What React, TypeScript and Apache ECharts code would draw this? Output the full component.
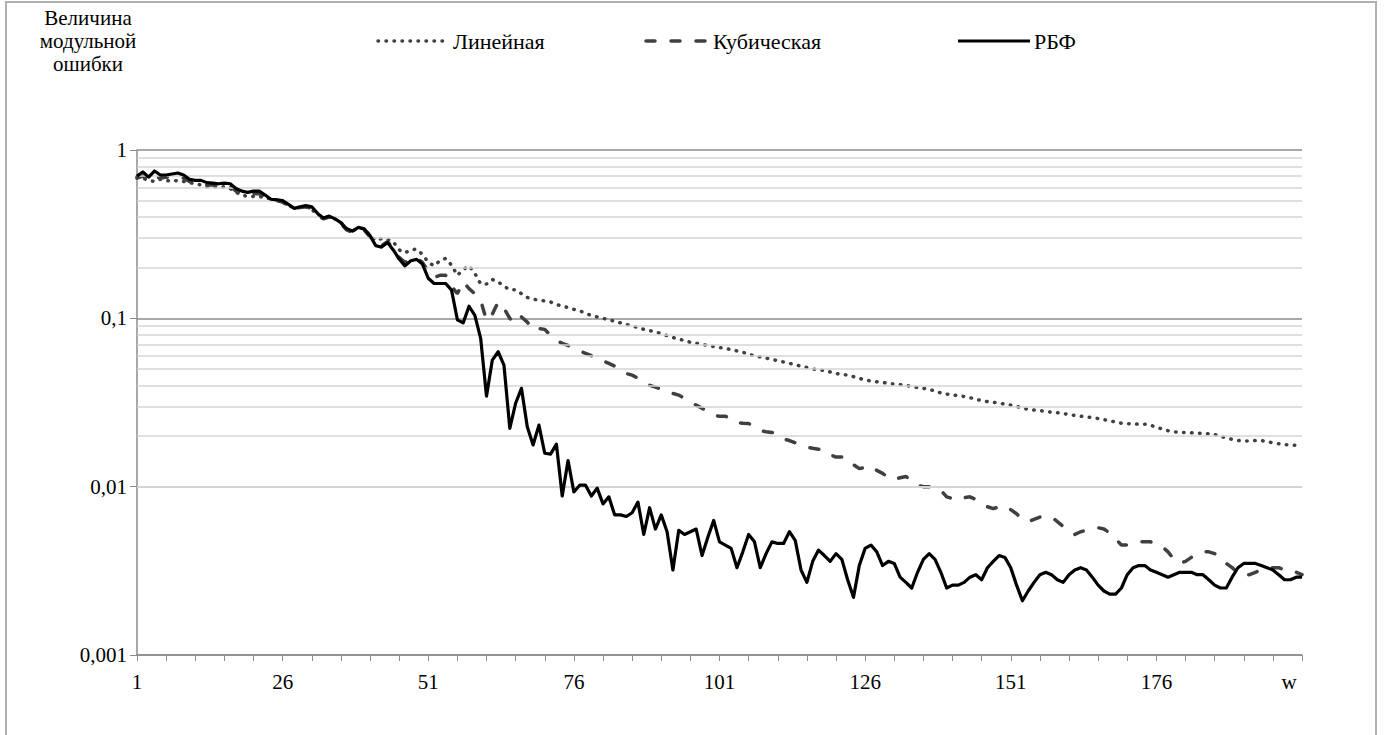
import React, { useEffect, useRef } from 'react';
import * as echarts from 'echarts';

const categories: string[] = Array.from({ length: 201 }, (_, i) => String(i + 1));
const xLastLabel = 'w';

const linear = [
  0.69, 0.68, 0.66, 0.65, 0.67, 0.66, 0.65, 0.66, 0.65, 0.64,
  0.63, 0.62, 0.605, 0.605, 0.6, 0.605, 0.59, 0.56, 0.54, 0.53,
  0.53, 0.53, 0.52, 0.51, 0.505, 0.49, 0.47, 0.45, 0.455, 0.46,
  0.445, 0.41, 0.4, 0.4, 0.39, 0.37, 0.34, 0.33, 0.345, 0.34,
  0.31, 0.29, 0.298, 0.295, 0.285, 0.255, 0.245, 0.255, 0.258, 0.24,
  0.215, 0.205, 0.22, 0.227, 0.207, 0.18, 0.195, 0.205, 0.185, 0.16,
  0.16, 0.17, 0.165, 0.155, 0.148, 0.148, 0.14, 0.133, 0.13, 0.128,
  0.127, 0.125, 0.121, 0.118, 0.116, 0.113, 0.111, 0.107, 0.104, 0.102,
  0.1, 0.098, 0.096, 0.094, 0.092, 0.09, 0.088, 0.086, 0.0845, 0.083,
  0.081, 0.079, 0.077, 0.075, 0.074, 0.072, 0.071, 0.07, 0.069, 0.068,
  0.067, 0.0665, 0.065, 0.064, 0.063, 0.061, 0.06, 0.059, 0.058, 0.057,
  0.056, 0.055, 0.054, 0.053, 0.052, 0.051, 0.05, 0.0495, 0.049, 0.048,
  0.047, 0.0465, 0.046, 0.045, 0.044, 0.043, 0.0425, 0.042, 0.0417, 0.041,
  0.0407, 0.0404, 0.04, 0.0393, 0.0388, 0.0384, 0.0378, 0.037, 0.036, 0.0355,
  0.035, 0.0348, 0.0343, 0.0338, 0.033, 0.0325, 0.032, 0.0317, 0.0313, 0.031,
  0.0305, 0.03, 0.0293, 0.0288, 0.0285, 0.0283, 0.028, 0.0277, 0.0275, 0.0272,
  0.0268, 0.0265, 0.0262, 0.026, 0.0257, 0.0254, 0.025, 0.0246, 0.0242, 0.0238,
  0.0237, 0.0236, 0.0235, 0.0235, 0.0232, 0.0225, 0.022, 0.0215, 0.0212, 0.021,
  0.021, 0.0209, 0.0208, 0.0207, 0.0206, 0.0204, 0.0199, 0.0195, 0.0191, 0.0188,
  0.0187, 0.0187, 0.0188, 0.0188, 0.0185, 0.0182, 0.018, 0.0178, 0.0177, 0.0176, 0.0174,
];

const cubic = [
  0.68, 0.7, 0.66, 0.7, 0.68, 0.69, 0.69, 0.69, 0.68, 0.65,
  0.64, 0.64, 0.62, 0.62, 0.61, 0.62, 0.61, 0.57, 0.55, 0.55,
  0.55, 0.55, 0.53, 0.505, 0.5, 0.49, 0.47, 0.45, 0.455, 0.46,
  0.45, 0.41, 0.39, 0.4, 0.385, 0.365, 0.335, 0.325, 0.34, 0.335,
  0.305, 0.275, 0.27, 0.285, 0.26, 0.23, 0.215, 0.225, 0.228, 0.215,
  0.19, 0.175, 0.18, 0.18, 0.155, 0.14, 0.165, 0.15, 0.14, 0.128,
  0.097, 0.106, 0.125, 0.115, 0.1, 0.093, 0.102, 0.095, 0.085, 0.087,
  0.086, 0.079, 0.074, 0.071, 0.069, 0.066, 0.064, 0.062, 0.06, 0.057,
  0.056, 0.054, 0.052, 0.049, 0.047, 0.046, 0.044, 0.042, 0.04, 0.039,
  0.038, 0.0364, 0.0358, 0.035, 0.0335, 0.0317, 0.0305, 0.0292, 0.028, 0.0265,
  0.0262, 0.0262, 0.0255, 0.024, 0.0238, 0.0237, 0.0228, 0.0215, 0.0212, 0.021,
  0.0205, 0.0192, 0.0188, 0.0182, 0.0178, 0.0172, 0.0169, 0.0167, 0.0165, 0.0155,
  0.015, 0.015, 0.0148, 0.0135, 0.0128, 0.013, 0.0133, 0.0125, 0.012, 0.0113,
  0.011, 0.0113, 0.0115, 0.0108, 0.0102, 0.01, 0.01, 0.01, 0.0095, 0.0087,
  0.0085, 0.0083, 0.0086, 0.0087, 0.0084, 0.0079, 0.0076, 0.0074, 0.0076, 0.0077,
  0.0073, 0.0069, 0.0064, 0.0062, 0.0064, 0.0066, 0.0066, 0.0066, 0.0062, 0.0058,
  0.0054, 0.0052, 0.0054, 0.0055, 0.0056, 0.0057, 0.0056, 0.0053, 0.0049, 0.0045,
  0.0045, 0.0046, 0.0047, 0.0047, 0.0047, 0.0046, 0.0044, 0.0041, 0.0037, 0.0035,
  0.0036, 0.0038, 0.004, 0.0041, 0.0041, 0.004, 0.0038, 0.0035, 0.0033, 0.0031,
  0.003, 0.003, 0.0031, 0.0032, 0.0033, 0.0033, 0.0033, 0.0032, 0.0031, 0.0031, 0.003,
];

const rbf = [
  0.7, 0.74, 0.69, 0.75, 0.71, 0.71, 0.72, 0.73, 0.71, 0.67,
  0.66, 0.66, 0.64, 0.635, 0.63, 0.635, 0.63, 0.59, 0.57, 0.56,
  0.57, 0.57, 0.54, 0.51, 0.505, 0.5, 0.475, 0.45, 0.46, 0.467,
  0.46, 0.42, 0.395, 0.405, 0.39, 0.37, 0.34, 0.33, 0.347, 0.34,
  0.31, 0.27, 0.265, 0.282, 0.255, 0.225, 0.205, 0.22, 0.224, 0.21,
  0.173, 0.161, 0.161, 0.161, 0.147, 0.098, 0.094, 0.118, 0.104, 0.076,
  0.0345, 0.0565, 0.0633, 0.0528, 0.0222, 0.0313, 0.0384, 0.0227, 0.0177, 0.0232,
  0.0158, 0.0156, 0.0179, 0.0088, 0.0143, 0.0093, 0.0102, 0.0102, 0.0088, 0.0098,
  0.0079, 0.0087, 0.0068, 0.0068, 0.00665, 0.007, 0.0081, 0.0052, 0.0075, 0.0056,
  0.0068, 0.0054, 0.0032, 0.0055, 0.0052, 0.0054, 0.0056, 0.0039, 0.005, 0.0063,
  0.0047, 0.0045, 0.0043, 0.0033, 0.0041, 0.0052, 0.0047, 0.0033, 0.004, 0.0047,
  0.0046, 0.0046, 0.0054, 0.0048, 0.0032, 0.0027, 0.0036, 0.0042, 0.0039, 0.0036,
  0.004, 0.0037, 0.0028, 0.0022, 0.0034, 0.0043, 0.0045, 0.0041, 0.0034, 0.0036,
  0.0035, 0.0029, 0.0027, 0.0025, 0.0031, 0.0037, 0.004, 0.0037, 0.0031, 0.0025,
  0.0026, 0.0026, 0.0027, 0.0029, 0.003, 0.0028, 0.0033, 0.0036, 0.0039, 0.0038,
  0.0033, 0.0026, 0.0021, 0.0024, 0.0027, 0.003, 0.0031, 0.003, 0.0028, 0.0027,
  0.003, 0.0032, 0.0033, 0.0032, 0.0029, 0.0026, 0.0024, 0.0023, 0.0023, 0.0025,
  0.003, 0.0033, 0.0034, 0.0034, 0.0032, 0.0031, 0.003, 0.0029, 0.003, 0.0031,
  0.0031, 0.0031, 0.003, 0.003, 0.0028, 0.0026, 0.0025, 0.0025, 0.0029, 0.0033,
  0.0035, 0.0035, 0.0035, 0.0034, 0.0033, 0.0032, 0.003, 0.0028, 0.0028, 0.0029, 0.0029,
];

const seriesNames = ['Линейная', 'Кубическая', 'РБФ'];
const yMajorTicks = [0.001, 0.01, 0.1, 1];
const yTickLabels = ['0,001', '0,01', '0,1', '1'];
const yMinorGrid = [
  0.002, 0.003, 0.004, 0.005, 0.006, 0.007, 0.008, 0.009,
  0.02, 0.03, 0.04, 0.05, 0.06, 0.07, 0.08, 0.09,
  0.2, 0.3, 0.4, 0.5, 0.6, 0.7, 0.8, 0.9,
];
const yTitle = ['Величина', 'модульной', 'ошибки'];

export default function App() {
  const ref = useRef<HTMLDivElement>(null);
  useEffect(() => {
    const chart = echarts.init(ref.current as HTMLDivElement, null, { renderer: 'svg' });
    const font = 'Liberation Serif';
    const lineStyles: any[] = [
      { color: '#404040', width: 3.5, type: [0.5, 7.5], cap: 'round' },
      { color: '#404040', width: 3.5, type: [9, 16], cap: 'round' },
      { color: '#000000', width: 3.2, type: 'solid', join: 'round' },
    ];
    // manual legend layout: [line start, line end, text x]
    const legendPos = [
      [378, 448, 453],
      [646, 710, 713],
      [958, 1030, 1034],
    ];
    const legendY = 41;
    const legendGraphics: any[] = [];
    seriesNames.forEach((n, i) => {
      const ls = lineStyles[i];
      legendGraphics.push({
        type: 'line',
        silent: true,
        shape: { x1: legendPos[i][0], y1: legendY, x2: legendPos[i][1], y2: legendY },
        style: {
          stroke: ls.color,
          lineWidth: ls.width,
          lineDash: Array.isArray(ls.type) ? ls.type : null,
          lineCap: ls.cap || 'butt',
        },
      });
      legendGraphics.push({
        type: 'text',
        silent: true,
        x: legendPos[i][2],
        y: legendY,
        style: {
          text: n,
          fontFamily: font,
          fontSize: 22,
          fill: '#000',
          textAlign: 'left',
          textVerticalAlign: 'middle',
        },
      });
    });
    const datasets = [linear, cubic, rbf];
    chart.setOption({
      animation: false,
      backgroundColor: '#ffffff',
      grid: { left: 137, right: 82, top: 150, bottom: 80, containLabel: false },
      xAxis: {
        type: 'category',
        data: categories,
        boundaryGap: false,
        axisLine: { lineStyle: { color: '#8c8c8c', width: 1.5 } },
        axisTick: { show: true, length: 6, interval: (i: number) => i % 5 === 0, lineStyle: { color: '#8c8c8c' } },
        axisLabel: {
          interval: (i: number) => i % 25 === 0,
          margin: 16,
          fontFamily: font,
          fontSize: 21,
          color: '#000',
          formatter: (v: string, i: number) => (i === categories.length - 1 ? '{w|' + xLastLabel + '}' : v),
          rich: { w: { fontFamily: font, fontSize: 21, color: '#000', padding: [0, 26, 0, 0] } },
        },
        splitLine: { show: false },
      },
      yAxis: {
        type: 'log',
        logBase: 10,
        min: 0.001,
        max: 1,
        splitNumber: 3,
        axisLine: { show: true, lineStyle: { color: '#8c8c8c', width: 1.5 } },
        axisTick: { show: true, length: 7, lineStyle: { color: '#8c8c8c' } },
        axisLabel: {
          margin: 10,
          fontFamily: font,
          fontSize: 21,
          color: '#000',
          formatter: (v: number) => {
            const i = yMajorTicks.findIndex((t) => Math.abs(Math.log10(t) - Math.log10(v)) < 1e-6);
            return i >= 0 ? yTickLabels[i] : '';
          },
        },
        splitLine: { show: true, lineStyle: { color: '#8c8c8c', width: 1.5 } },
        minorTick: { show: false },
      },
      graphic: [
        {
          type: 'rect',
          silent: true,
          shape: { x: 6, y: 2, width: 1370, height: 800 },
          style: { fill: 'none', stroke: '#b0b0b0', lineWidth: 2 },
        },
        {
          type: 'text',
          x: 88,
          y: 6,
          silent: true,
          style: {
            text: yTitle.join('\n'),
            fontFamily: font,
            fontSize: 21,
            lineHeight: 23,
            textAlign: 'center',
            textVerticalAlign: 'top',
            fill: '#000',
          },
        },
        ...legendGraphics,
      ],
      series: [
        {
          type: 'line',
          name: '__minor',
          data: [],
          z: 1,
          silent: true,
          markLine: {
            silent: true,
            symbol: ['none', 'none'],
            label: { show: false },
            lineStyle: { color: '#d4d4d4', type: 'solid', width: 1.5 },
            data: yMinorGrid.map((v) => ({ yAxis: v })),
          },
        },
        ...seriesNames.map((n, i) => ({
          type: 'line',
          name: n,
          data: datasets[i],
          symbol: 'none',
          showSymbol: false,
          z: 3 + i,
          lineStyle: lineStyles[i],
          itemStyle: { color: lineStyles[i].color },
        })),
      ],
    });
    return () => chart.dispose();
  }, []);
  return (
    <div
      ref={ref}
      style={{ position: 'absolute', left: 0, top: 0, width: 1384, height: 735, background: '#fff' }}
    />
  );
}
